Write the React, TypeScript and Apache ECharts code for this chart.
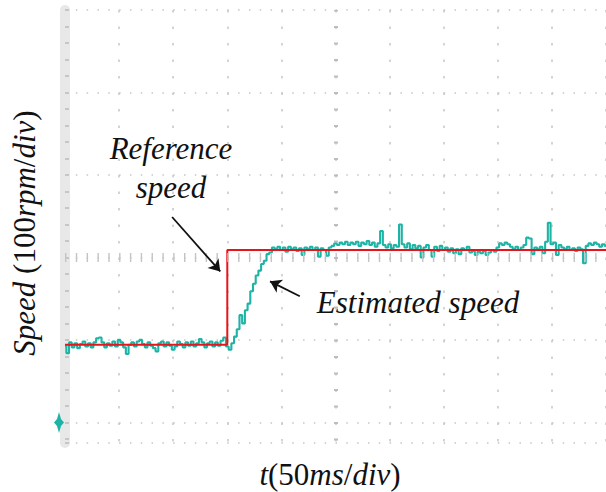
import React, { useEffect, useRef } from "react";
import * as echarts from "echarts";

// ---- data (time in ms, speed in rpm; ground marker = 0 rpm) ----
const SAMPLE_MS = 2.5;
const estimatedSpeed = [
  // 0 – 147.5 ms (low level)
  93, 84, 97, 91, 96, 90, 95, 98, 92, 96,
  91, 97, 102, 103, 97, 91, 96, 93, 98, 92,
  100, 97, 91, 83, 94, 97, 92, 98, 100, 95,
  91, 97, 93, 90, 86, 96, 98, 92, 97, 93,
  88, 92, 98, 95, 91, 97, 93, 98, 92, 96,
  101, 97, 91, 96, 98, 92, 97, 93, 99, 103,
  // 150 – 192.5 ms (rise)
  92, 88, 96, 104, 113, 130, 120, 136, 144, 159,
  168, 178, 184, 192, 196, 204, 206, 212,
  // 195 – 330 ms
  210, 213, 209, 212, 207, 213, 210, 212, 208, 211,
  203, 212, 210, 213, 209, 212, 201, 211, 209, 202,
  212, 214, 217, 215, 218, 216, 219, 215, 218, 216,
  219, 214, 218, 216, 220, 215, 218, 213, 217, 232,
  215, 212, 216, 211, 215, 213, 240, 216, 212, 217,
  210, 215, 211, 214, 200,
  // 332.5 – 500 ms
  212, 215, 209, 201, 213, 208, 214, 209, 212, 207,
  211, 205, 210, 204, 211, 209, 213, 206, 208, 203,
  207, 205, 208, 203, 206, 209, 207, 212, 217, 215,
  218, 216, 213, 210, 213, 209, 212, 215, 224, 223,
  204, 212, 210, 213, 205, 219, 242, 216, 218, 203,
  215, 212, 210, 213, 209, 211, 208, 212, 210, 193,
  214, 217, 215, 218, 216, 213, 216, 214,
];
const referenceTimes = [0, 150, 150, 500];
const referenceSpeed = [94, 94, 209, 209];

const TIME_MIN = 0;
const TIME_MAX = 500;
const TIME_DIV = 50; // 50 ms/div
const SPEED_MIN = -25;
const SPEED_MAX = 500;
const SPEED_DIV = 100; // 100 rpm/div
const CENTER_TIME = 250;
const CENTER_SPEED = 200;

// annotation arrows [fromTime, fromSpeed, toTime, toSpeed]
const refArrow = [99, 249, 143.5, 183];
const estArrow = [217, 153, 189.5, 171];

const FAMILY = "Liberation Serif, DejaVu Serif, serif";
const DOT = "#c6c6c6";
const CYAN = "#1db3a5";

export default function App() {
  const ref = useRef<HTMLDivElement>(null);
  useEffect(() => {
    document.body.style.margin = "0";
    if (!ref.current) return;
    const chart = echarts.init(ref.current, undefined, { renderer: "svg" });

    const estData = estimatedSpeed.map((v, i) => [i * SAMPLE_MS, v]);
    const refData = referenceTimes.map((t, i) => [t, referenceSpeed[i]]);
    const gridDivs = (SPEED_MAX - SPEED_MIN) / SPEED_DIV;

    const it = { fontFamily: FAMILY, fontSize: 31, fontStyle: "italic", fill: "#111" };
    const up = { fontFamily: FAMILY, fontSize: 31, fontStyle: "normal", fill: "#111" };
    const label = (text: string, x: number, y: number) => ({
      type: "text",
      x,
      y,
      style: { text, ...it, align: "center", verticalAlign: "middle" },
    });

    chart.setOption({
      animation: false,
      backgroundColor: "#ffffff",
      textStyle: { fontFamily: FAMILY },
      grid: { left: 65, top: 10, width: 541, height: 433, containLabel: false },
      xAxis: {
        type: "value",
        min: TIME_MIN,
        max: TIME_MAX,
        interval: TIME_DIV,
        axisLine: { show: false },
        axisTick: { show: false },
        axisLabel: { show: false },
        splitLine: { show: true, lineStyle: { color: DOT, width: 1.5, type: [2.5, 14] } },
      },
      yAxis: [
        {
          type: "value",
          min: SPEED_MIN,
          max: SPEED_MAX,
          offset: 5,
          axisLine: { show: true, lineStyle: { color: "#e8e8e8", width: 10 } },
          axisTick: { show: false },
          axisLabel: { show: false },
          splitLine: { show: false },
        },
        {
          type: "value",
          inverse: true,
          min: 0,
          max: gridDivs,
          interval: 1,
          position: "left",
          axisLine: { show: false },
          axisLabel: { show: false },
          axisTick: { show: true, inside: true, length: 4, lineStyle: { color: "#bbbbbb", width: 1.5 } },
          minorTick: { show: true, splitNumber: 5, length: 4, lineStyle: { color: "#bbbbbb", width: 1.5 } },
          splitLine: { show: true, lineStyle: { color: DOT, width: 1.5, type: [1.5, 9.32] } },
        },
      ],
      series: [
        {
          type: "line",
          name: "decor",
          data: [],
          z: 1,
          silent: true,
          markLine: {
            silent: true,
            symbol: "none",
            label: { show: false },
            data: [
              { yAxis: CENTER_SPEED, lineStyle: { color: "#c4c4c4", width: 9, type: [1.4, 9.42] } },
              { xAxis: CENTER_TIME, lineStyle: { color: "#bdbdbd", width: 4, type: [2, 14.5], dashOffset: 13.5 } },
            ],
          },
        },
        {
          type: "line",
          name: "Estimated speed",
          data: estData,
          step: "middle",
          showSymbol: false,
          z: 2,
          lineStyle: { color: CYAN, width: 2.1 },
        },
        {
          type: "line",
          name: "Reference speed",
          data: refData,
          showSymbol: false,
          z: 3,
          lineStyle: { color: "#e8141c", width: 2 },
          markLine: {
            silent: true,
            symbol: ["none", "arrow"],
            symbolSize: 11,
            label: { show: false },
            lineStyle: { color: "#111", width: 1.8, type: "solid" },
            data: [
              [{ coord: [refArrow[0], refArrow[1]] }, { coord: [refArrow[2], refArrow[3]] }],
              [{ coord: [estArrow[0], estArrow[1]] }, { coord: [estArrow[2], estArrow[3]] }],
            ],
          },
        },
      ],
      graphic: [
        {
          type: "polygon",
          z: 10,
          shape: { points: [[59, 412], [61, 419], [64, 422.5], [61, 426], [59, 433], [57, 426], [54, 422.5], [57, 419]] },
          style: { fill: CYAN },
        },
        label("Reference", 171, 148),
        label("speed", 171, 187),
        label("Estimated speed", 418, 302),
        {
          type: "text",
          x: 330,
          y: 474,
          style: {
            text: "{i|t}{n|(50}{i|ms}{n|/}{i|div}{n|)}",
            ...up,
            align: "center",
            verticalAlign: "middle",
            rich: { i: it, n: up },
          },
        },
        {
          type: "text",
          x: 24,
          y: 233,
          rotation: Math.PI / 2,
          style: {
            text: "{i|Speed} {n|(100}{i|rpm}{n|/}{i|div}{n|)}",
            ...up,
            align: "center",
            verticalAlign: "middle",
            rich: { i: it, n: up },
          },
        },
      ],
    });
    return () => chart.dispose();
  }, []);
  return <div ref={ref} style={{ width: 606, height: 492 }} />;
}
